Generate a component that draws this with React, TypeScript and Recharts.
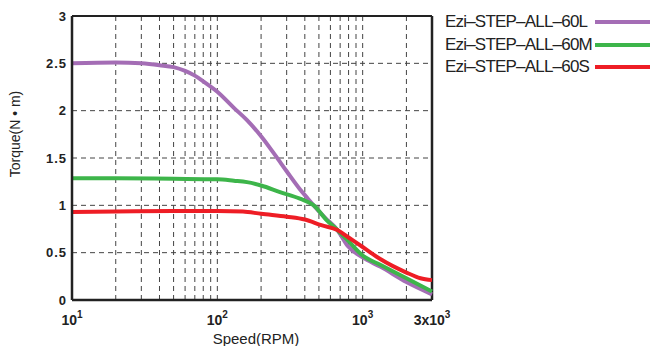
import { LineChart, Line, XAxis, YAxis, CartesianGrid, Legend, ReferenceLine, Label } from 'recharts';

const FONT = '"Liberation Sans", Arial, sans-serif';

// Ezi-STEP-ALL-60L
const speedsL = [10, 20, 30, 40, 50, 60, 70, 80, 100, 130, 160, 200, 250, 300, 370, 420, 460, 550, 670, 790, 1000, 1330, 2000, 3000];
const torqueL = [2.5, 2.51, 2.5, 2.48, 2.46, 2.42, 2.37, 2.31, 2.2, 2.03, 1.9, 1.73, 1.53, 1.36, 1.17, 1.07, 1.0, 0.87, 0.74, 0.57, 0.45, 0.35, 0.19, 0.06];

// Ezi-STEP-ALL-60M
const speedsM = [10, 20, 50, 100, 130, 160, 200, 270, 370, 460, 560, 670, 790, 1000, 1330, 2000, 3000];
const torqueM = [1.285, 1.285, 1.28, 1.275, 1.26, 1.245, 1.21, 1.14, 1.07, 1.0, 0.85, 0.74, 0.63, 0.47, 0.37, 0.23, 0.09];

// Ezi-STEP-ALL-60S
const speedsS = [10, 20, 50, 100, 150, 200, 300, 400, 520, 670, 800, 1000, 1330, 2000, 2500, 3000];
const torqueS = [0.93, 0.935, 0.94, 0.94, 0.935, 0.91, 0.88, 0.85, 0.79, 0.74, 0.66, 0.56, 0.43, 0.29, 0.23, 0.21];

const seriesNames = ['Ezi–STEP–ALL–60L', 'Ezi–STEP–ALL–60M', 'Ezi–STEP–ALL–60S'];
const seriesColors = ['#a46db5', '#3db54a', '#ee1d25'];

const X_MIN = 10;
const X_MAX = 3000;
const Y_MAX = 3;
const xTicks = [10, 100, 1000, 3000];
const xTickBase = ['10', '10', '10', '3x10'];
const xTickExp = ['1', '2', '3', '3'];
const yTicks = [0, 0.5, 1, 1.5, 2, 2.5, 3];
const gridX = [20, 30, 40, 50, 60, 70, 80, 90, 100, 200, 300, 400, 500, 600, 700, 800, 900, 1000, 2000];
const gridY = [0.5, 1, 1.5, 2, 2.5];

const toPoints = (speeds: number[], torque: number[]) => speeds.map((rpm, i) => ({ rpm, torque: torque[i] }));

const series = [
  toPoints(speedsL, torqueL),
  toPoints(speedsM, torqueM),
  toPoints(speedsS, torqueS),
];

const XTick = ({ x, y, payload }: any) => {
  const i = xTicks.indexOf(payload.value);
  return (
    <text x={x} y={y + 25} textAnchor="middle" fontSize={14} fontWeight="bold" fill="#222" fontFamily={FONT}>
      <tspan>{xTickBase[i]}</tspan>
      <tspan dy={-7} fontSize={10}>{xTickExp[i]}</tspan>
    </text>
  );
};

const renderLegend = ({ payload }: any) => (
  <div style={{ fontFamily: FONT }}>
    {(payload || []).map((p: any) => (
      <div key={p.value} style={{ display: 'flex', alignItems: 'center', height: 22.5 }}>
        <span style={{ width: 150, fontSize: 17, letterSpacing: -0.8, color: '#222', whiteSpace: 'nowrap' }}>{p.value}</span>
        <span style={{ width: 55, height: 4, background: p.color }} />
      </div>
    ))}
  </div>
);

// grid positions in the plot box (log x, linear y)
const gridXCoords = ({ offset }: any) =>
  gridX.map((v) => offset.left + (offset.width * Math.log10(v / X_MIN)) / Math.log10(X_MAX / X_MIN));
const gridYCoords = ({ offset }: any) =>
  gridY.map((v) => offset.top + offset.height * (1 - v / Y_MAX));

export default function App() {
  return (
    <div style={{ position: 'absolute', left: 0, top: 0, width: 650, height: 346, background: '#fff' }}>
      <LineChart width={650} height={346} margin={{ top: 16, right: 218, left: 0, bottom: 0 }}>
        <CartesianGrid
          stroke="#444"
          strokeDasharray="5 4"
          horizontalCoordinatesGenerator={gridYCoords}
          verticalCoordinatesGenerator={gridXCoords}
        />
        <XAxis
          dataKey="rpm"
          type="number"
          scale="log"
          domain={[X_MIN, X_MAX]}
          ticks={xTicks}
          height={46}
          tickSize={0}
          tickMargin={0}
          tick={<XTick />}
          axisLine={{ stroke: '#222', strokeWidth: 2.5 }}
          allowDuplicatedCategory={false}
        >
          <Label value="Speed(RPM)" position="insideBottom" offset={2} dx={4} style={{ fontSize: 15, fill: '#222', fontFamily: FONT }} />
        </XAxis>
        <YAxis
          type="number"
          domain={[0, Y_MAX]}
          ticks={yTicks}
          width={72}
          tickSize={0}
          tickMargin={5}
          tick={{ fontSize: 13, fontWeight: 'bold', fill: '#222', fontFamily: FONT, letterSpacing: 1 }}
          axisLine={{ stroke: '#222', strokeWidth: 2.5 }}
        >
          <Label
            content={({ viewBox }: any) => {
              const cx = viewBox.x + 20;
              const cy = viewBox.y + viewBox.height / 2 - 24;
              return (
                <text x={cx} y={cy} transform={`rotate(-90 ${cx} ${cy})`} textAnchor="middle" fontSize={14} fill="#222" fontFamily={FONT}>
                  Torque(N • m)
                </text>
              );
            }}
          />
        </YAxis>
        <ReferenceLine y={Y_MAX} stroke="#222" strokeWidth={2} />
        <ReferenceLine x={X_MAX} stroke="#222" strokeWidth={2.5} />
        {series.map((data, i) => (
          <Line
            key={seriesNames[i]}
            data={data}
            dataKey="torque"
            name={seriesNames[i]}
            type="monotone"
            stroke={seriesColors[i]}
            strokeWidth={4}
            dot={false}
            isAnimationActive={false}
          />
        ))}
        <Legend
          layout="vertical"
          align="center"
          verticalAlign="middle"
          content={renderLegend}
          wrapperStyle={{ left: 445, top: 10.75, width: 205, height: 'auto' }}
        />
      </LineChart>
    </div>
  );
}
